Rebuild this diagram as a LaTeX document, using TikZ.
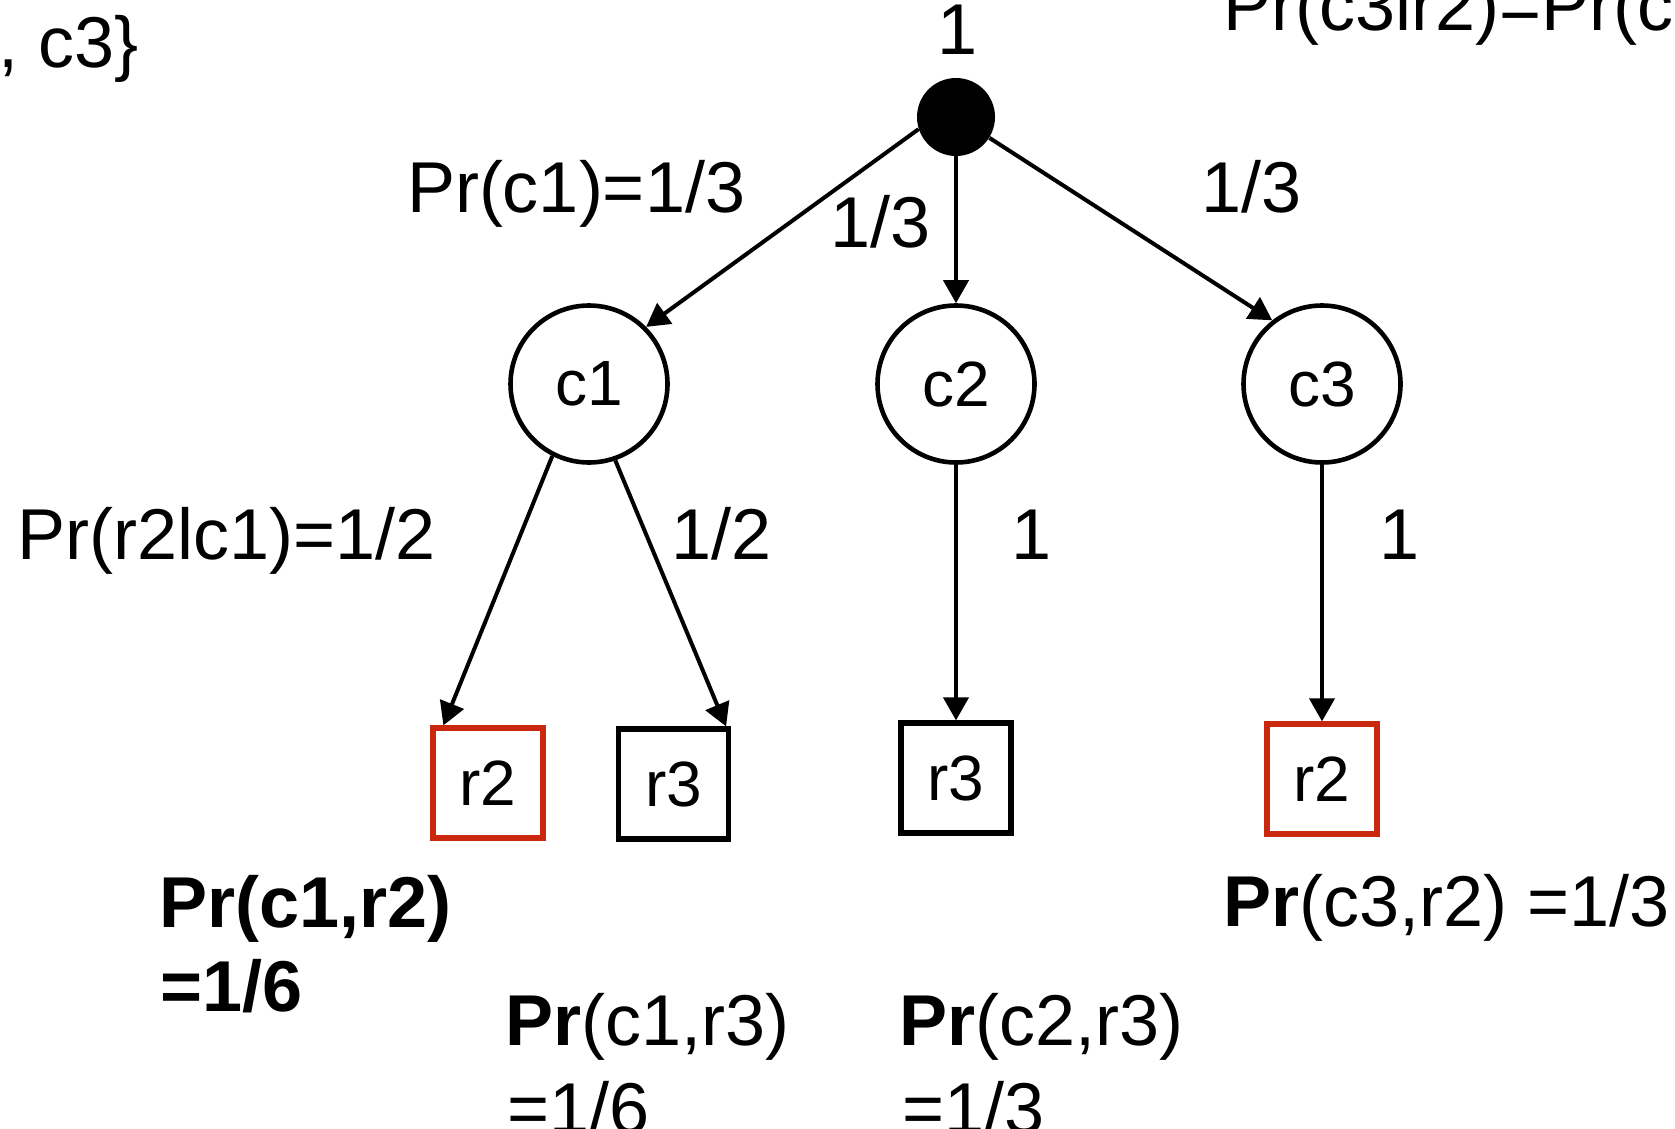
\documentclass[tikz,border=0pt]{standalone}
\usepackage{fontspec}
\setmainfont{Liberation Sans}
\usetikzlibrary{arrows.meta,calc}
\definecolor{boxred}{RGB}{201,40,14}
\begin{document}
\begin{tikzpicture}[x=0.5pt,y=-0.5pt,
  lbl/.style={inner sep=0pt, outer sep=0pt, anchor=base west, font=\fontsize{36}{42}\selectfont},
  lblc/.style={lbl, anchor=base},
  cnode/.style={circle, draw, line width=2.3pt, minimum size=78.5pt, inner sep=0pt, font=\fontsize{32}{36}\selectfont},
  rbox/.style={draw, line width=2.6pt, minimum size=55pt, inner sep=0pt, font=\fontsize{32}{36}\selectfont},
  redbox/.style={rbox, draw=boxred},
  arr/.style={line width=2pt, -{Triangle[length=11.5pt,width=12.5pt]}}]
\useasboundingbox (0,0) rectangle (1675,1129);

% nodes
\node[circle, fill=black, minimum size=39pt, inner sep=0pt] (root) at (956,117) {};
\node[cnode] (c1) at (589,384) {c1};
\node[cnode] (c2) at (956,384) {c2};
\node[cnode] (c3) at (1322,384) {c3};
\node[redbox] (r2a) at (488,783) {r2};
\node[rbox] (r3a) at (673.5,784) {r3};
\node[rbox] (r3b) at (956,778) {r3};
\node[redbox] (r2b) at (1322,779) {r2};

% connectors
\draw[arr] (root.198) -- (c1.45);
\draw[arr] (root.south) -- (c2.north);
\draw[arr] (root.328) -- (c3.128.6);
\draw[arr] (c1.243.5) -- ($(r2a.north west)+(13,0)$);
\draw[arr] (c1.289) -- ($(r3a.north east)+(-5,0)$);
\draw[arr] (c2.south) -- (r3b.north);
\draw[arr] (c3.south) -- (r2b.north);

% labels
\node[lbl, anchor=base east] (tl) at (139,68) {, c3\}};
\node[lbl] (tr) at (1223.5,31) {Pr(c3lr2)=Pr(c};
\node[lblc] (one) at (958,55) {1};
\node[lbl] (p1) at (407,212) {Pr(c1)=1/3};
\node[lbl] (p2) at (830,247) {1/3};
\node[lbl] (p3) at (1201,212) {1/3};
\node[lbl] (q1) at (17.5,559) {Pr(r2lc1)=1/2};
\node[lbl] (q2) at (671,559) {1/2};
\node[lblc] (q3) at (1032,559) {1};
\node[lblc] (q4) at (1400,559) {1};
\node[lbl] (j1a) at (159.5,927) {\textbf{Pr(c1,r2)}};
\node[lbl] (j1b) at (160,1011) {\textbf{=1/6}};
\node[lbl] (j2a) at (505,1045) {\textbf{Pr}(c1,r3)};
\node[lbl] (j2b) at (507,1133) {=1/6};
\node[lbl] (j3a) at (899,1045) {\textbf{Pr}(c2,r3)};
\node[lbl] (j3b) at (902,1133) {=1/3};
\node[lbl] (j4) at (1223.5,926) {\textbf{Pr}(c3,r2) =1/3};
\end{tikzpicture}
\end{document}
